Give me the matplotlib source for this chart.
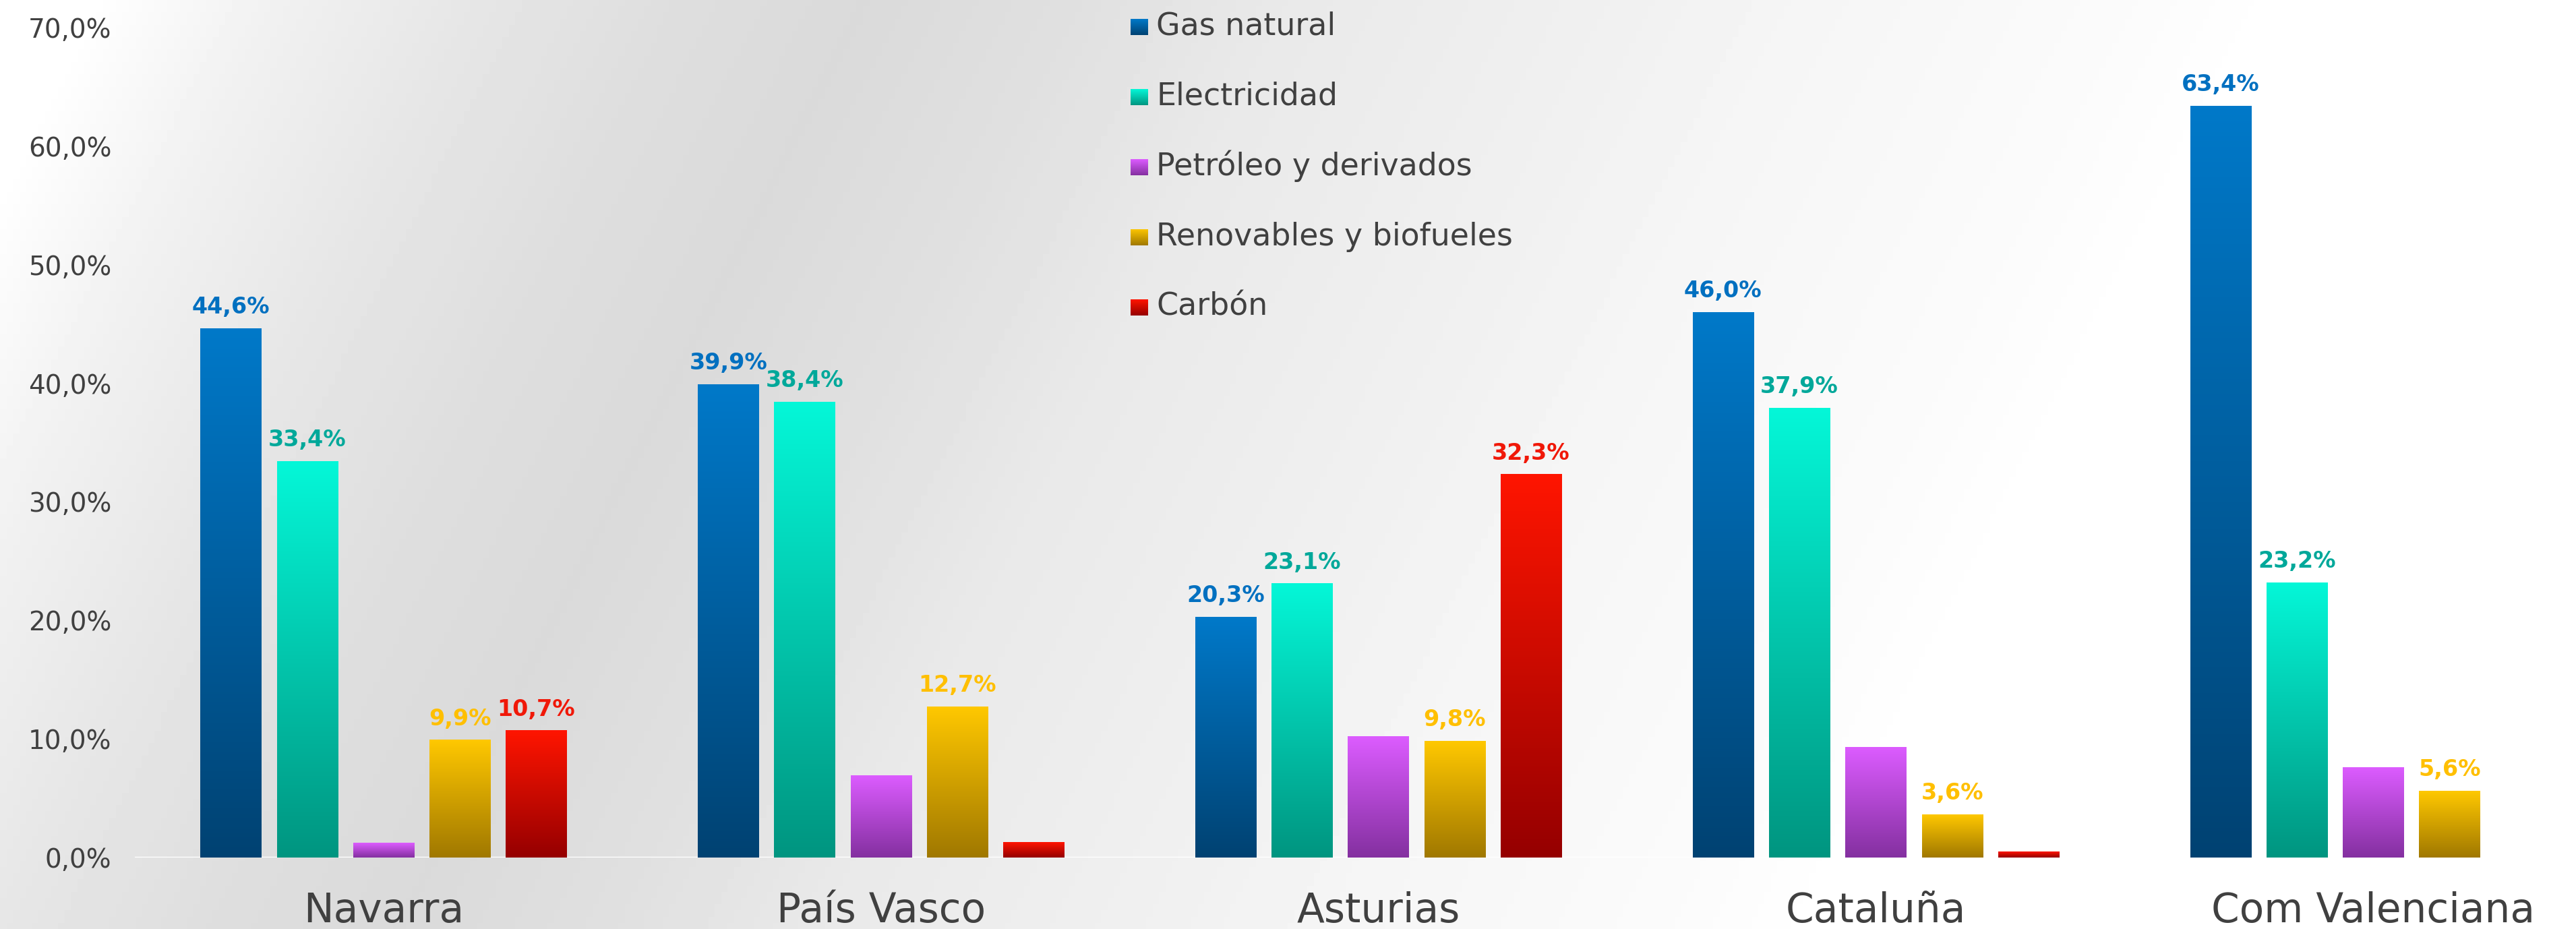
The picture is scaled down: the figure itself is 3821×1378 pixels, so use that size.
import numpy as np
import matplotlib
matplotlib.use("Agg")
import matplotlib.pyplot as plt
from matplotlib.colors import LinearSegmentedColormap

# ---- data ----
regions = ["Navarra", "País Vasco", "Asturias", "Cataluña", "Com Valenciana"]
series = ["Gas natural", "Electricidad", "Petróleo y derivados",
          "Renovables y biofueles", "Carbón"]

gas_natural = [44.6, 39.9, 20.3, 46.0, 63.4]
electricidad = [33.4, 38.4, 23.1, 37.9, 23.2]
petroleo = [1.2, 6.9, 10.2, 9.3, 7.6]
renovables = [9.9, 12.7, 9.8, 3.6, 5.6]
carbon = [10.7, 1.3, 32.3, 0.5, 0.0]

# which bars carry a value label in the original
label_gas = [True, True, True, True, True]
label_elec = [True, True, True, True, True]
label_petr = [False, False, False, False, False]
label_renov = [True, True, True, True, True]
label_carbon = [True, False, True, False, False]

y_ticks = [0, 10, 20, 30, 40, 50, 60, 70]

data = [gas_natural, electricidad, petroleo, renovables, carbon]
labels_on = [label_gas, label_elec, label_petr, label_renov, label_carbon]

# (top colour, bottom colour, label colour)
styles = [
    ("#0079c9", "#004272", "#0070c0"),
    ("#05f7d8", "#009580", "#00a89a"),
    ("#dc5cff", "#8430a0", "#b040d0"),
    ("#ffc800", "#a07800", "#ffbf00"),
    ("#ff1500", "#950000", "#f01808"),
]
TEXT = "#404040"

W_PX, H_PX = 3821, 1378
fig = plt.figure(figsize=(W_PX / 100, H_PX / 100), dpi=100)

# ---- background gradient (diagonal grey band) ----
bg = fig.add_axes([0, 0, 1, 1], zorder=-1)
gx, gy = np.meshgrid(np.linspace(0, W_PX, 400), np.linspace(0, H_PX, 150))
t = gx + 0.5 * gy
gray = np.interp(t, [0, 150, 400, 700, 1000, 1280, 1600, 1900, 2450, 2650, 3170, 3400],
                 [255, 254, 241, 230, 222, 218, 224, 233, 241, 245, 251, 255]) / 255
bg.imshow(gray, cmap="gray", vmin=0, vmax=1, aspect="auto",
          extent=[0, 1, 0, 1], origin="upper")
bg.axis("off")

# ---- main axes ----
ax_left = 200 / W_PX
ax_bottom = 1 - 1272 / H_PX
ax_top = 1 - 41 / H_PX
ax = fig.add_axes([ax_left, ax_bottom, 1 - ax_left, ax_top - ax_bottom])
ax.set_facecolor("none")

x = np.arange(len(regions))
BAR_W = 0.122
STEP = 0.1535
grad = np.linspace(0, 1, 256).reshape(-1, 1)

for j, (vals, flags, (top, bottom, lab_col)) in enumerate(zip(data, labels_on, styles)):
    pos = x + (j - 2) * STEP
    bars = ax.bar(pos, vals, BAR_W, color="none", zorder=2)
    cmap = LinearSegmentedColormap.from_list(series[j], [bottom, top])
    for b, v, show in zip(bars, vals, flags):
        bx, bw, bh = b.get_x(), b.get_width(), b.get_height()
        if bh <= 0:
            continue
        ax.imshow(grad, extent=[bx, bx + bw, 0, bh], cmap=cmap, aspect="auto",
                  origin="lower", zorder=2)
        if show:
            ax.annotate(f"{v:.1f}".replace(".", ",") + "%", (bx + bw / 2, bh),
                        xytext=(0, 16), textcoords="offset points",
                        ha="center", va="baseline", fontsize=24,
                        fontweight="bold", color=lab_col, zorder=3)

ax.axhline(0, color="white", lw=2.5, zorder=1.5)

ax.set_xlim(-0.5, (W_PX - 568) / 738)
ax.set_ylim(0, 70)
ax.set_aspect("auto")
ax.set_yticks(y_ticks)
ax.set_yticklabels([f"{v:.1f}".replace(".", ",") + "%" for v in y_ticks],
                   fontsize=28, color=TEXT)
ax.tick_params(axis="y", length=0, pad=25)
ax.set_xticks([])
for s in ax.spines.values():
    s.set_visible(False)

for xi, name in zip(x, regions):
    ax.annotate(name, (xi, 0), xytext=(0, -69), textcoords="offset points",
                ha="center", va="baseline", fontsize=43, color=TEXT,
                annotation_clip=False)

# ---- legend (gradient squares + text) ----
for k, (name, (top, bottom, _)) in enumerate(zip(series, styles)):
    base = 52 + 104 * k
    m_ax = fig.add_axes([1677 / W_PX, 1 - base / H_PX, 26 / W_PX, 24 / H_PX])
    m_ax.imshow(grad, cmap=LinearSegmentedColormap.from_list(name, [bottom, top]),
                aspect="auto", origin="lower")
    m_ax.axis("off")
    fig.text(1715 / W_PX, 1 - base / H_PX, name, va="baseline", ha="left",
             fontsize=33, color=TEXT)

fig.savefig("out.png", dpi=100)
